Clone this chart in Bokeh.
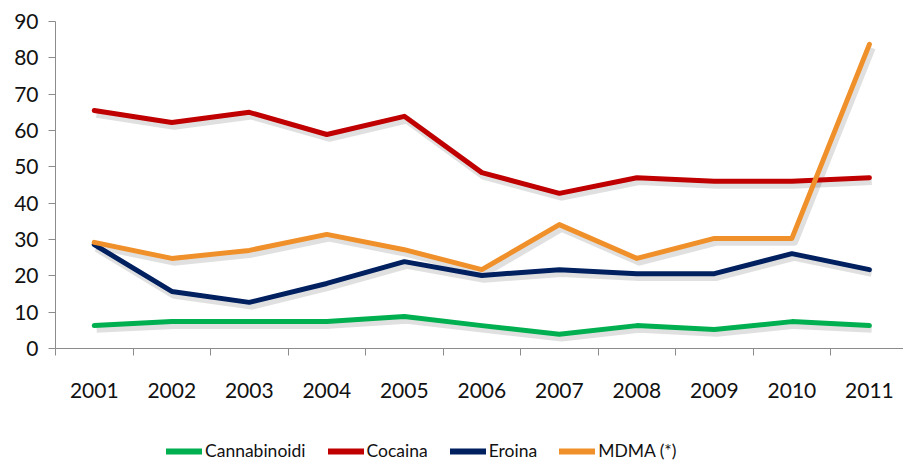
from bokeh.plotting import figure
from bokeh.layouts import column
from bokeh.models import Range1d, FixedTicker, LinearAxis, Legend, LegendItem, CustomJSTickFormatter
from bokeh.embed import file_html
from bokeh.resources import INLINE

years = ["2001", "2002", "2003", "2004", "2005", "2006", "2007", "2008", "2009", "2010", "2011"]
cannabinoidi = [6.3, 7.4, 7.4, 7.4, 8.8, 6.3, 3.9, 6.3, 5.2, 7.4, 6.3]
cocaina = [65.5, 62.2, 65.0, 58.9, 63.9, 48.4, 42.7, 47.0, 46.0, 46.0, 47.0]
eroina = [28.6, 15.7, 12.7, 17.9, 23.9, 20.1, 21.7, 20.6, 20.6, 26.1, 21.7]
mdma = [29.2, 24.8, 27.0, 31.4, 27.2, 21.7, 34.1, 24.8, 30.3, 30.3, 83.7]

series = [
    ("Cannabinoidi", cannabinoidi, "#00B050"),
    ("Cocaina", cocaina, "#C00000"),
    ("Eroina", eroina, "#002060"),
    ("MDMA (*)", mdma, "#F0902A"),
]

FONT = "Lato"
AXIS_COLOR = "#8C8C8C"

p = figure(width=903, height=431, output_backend="svg", toolbar_location=None,
           x_range=Range1d(-0.5, 10.44), y_range=Range1d(0, 90),
           min_border_left=55, min_border_right=0, min_border_top=21, min_border_bottom=83,
           x_axis_type=None)
p.outline_line_color = None
p.xgrid.grid_line_color = None
p.ygrid.grid_line_color = None
p.background_fill_color = "white"
p.border_fill_color = "white"

# y axis
ya = p.yaxis[0]
ya.ticker = FixedTicker(ticks=list(range(0, 91, 10)))
ya.axis_line_color = AXIS_COLOR
ya.major_tick_line_color = AXIS_COLOR
ya.major_tick_in = 0
ya.major_tick_out = 7
ya.minor_tick_line_color = None
ya.major_label_text_font = FONT
ya.major_label_text_font_size = "21px"
ya.major_label_text_color = "#111111"
ya.major_label_standoff = 10

xs = list(range(len(years)))

# x axis with boundary ticks (no labels)
xa1 = LinearAxis(ticker=FixedTicker(ticks=[i - 0.5 for i in range(len(years) + 1)]),
                 formatter=CustomJSTickFormatter(code="return ''"))
xa1.axis_line_color = AXIS_COLOR
xa1.major_tick_line_color = AXIS_COLOR
xa1.major_tick_in = 0
xa1.major_tick_out = 7
xa1.minor_tick_line_color = None
xa1.major_label_standoff = 0
p.add_layout(xa1, "below")

# x axis labels at slot centers
xa2 = LinearAxis(ticker=FixedTicker(ticks=xs))
xa2.major_label_overrides = {i: y for i, y in zip(xs, years)}
xa2.axis_line_color = None
xa2.major_tick_line_color = None
xa2.minor_tick_line_color = None
xa2.major_tick_in = 0
xa2.major_tick_out = 0
xa2.major_label_text_font = FONT
xa2.major_label_text_font_size = "21px"
xa2.major_label_text_color = "#111111"
xa2.major_label_standoff = 27
p.add_layout(xa2, "below")

# soft shadows
for name, vals, color in series:
    p.line([x + 0.03 for x in xs], [v - 0.9 for v in vals], line_color="#000000",
           line_alpha=0.12, line_width=8, line_join="round")

for name, vals, color in series:
    p.line(xs, vals, line_color=color, line_width=5, line_join="round", line_cap="round")

# legend strip
lf = figure(width=903, height=30, output_backend="svg", toolbar_location=None,
            x_range=Range1d(0, 1), y_range=Range1d(0, 1),
            min_border_left=0, min_border_right=0, min_border_top=0, min_border_bottom=0,
            x_axis_type=None, y_axis_type=None)
lf.outline_line_color = None
lf.xgrid.grid_line_color = None
lf.ygrid.grid_line_color = None

items = []
for name, vals, color in series:
    r = lf.line([-10, -9], [-10, -9], line_color=color, line_width=6, line_cap="round")
    items.append(LegendItem(label=name, renderers=[r]))

legend = Legend(items=items, orientation="horizontal", location=(111, 0),
                label_text_font=FONT, label_text_font_size="17.5px", label_text_color="#111111",
                glyph_width=36, glyph_height=20, label_height=20, spacing=22, label_standoff=3,
                padding=0, margin=0, border_line_color=None, background_fill_alpha=0)
lf.add_layout(legend)

open("out.html", "w").write(file_html(column(p, lf), INLINE))
